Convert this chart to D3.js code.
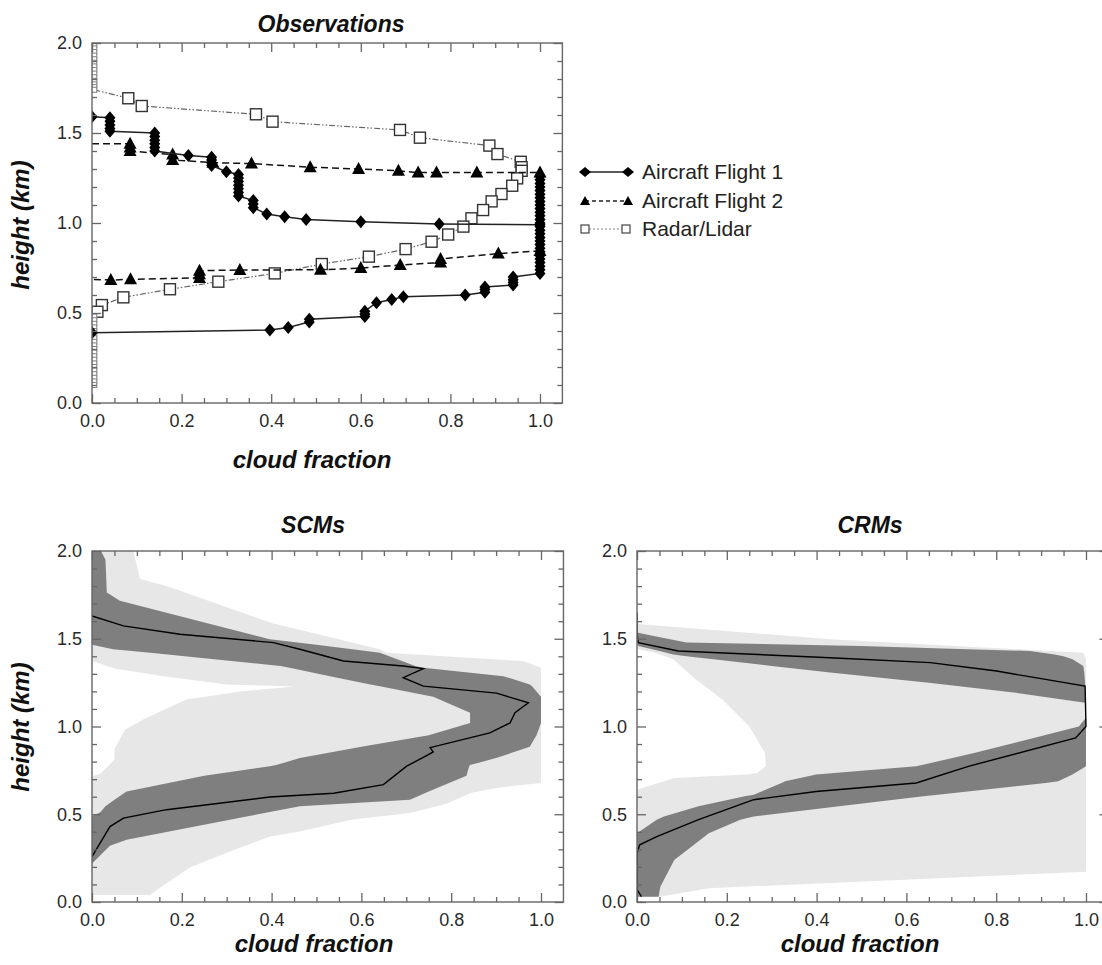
<!DOCTYPE html>
<html><head><meta charset="utf-8">
<script src="https://cdn.jsdelivr.net/npm/d3@7"></script>
<style>
html,body{margin:0;padding:0;background:#fff;}
svg{display:block;}
</style></head><body>
<svg id="chart" width="1102" height="965"></svg>
<script>
// ================= DATA =================
const xTicks = [0, 0.2, 0.4, 0.6, 0.8, 1.0];
const xMinorTicks = [0.05, 0.1, 0.15, 0.25, 0.3, 0.35, 0.45, 0.5, 0.55, 0.65, 0.7, 0.75, 0.85, 0.9, 0.95];
const yTicks = [0, 0.5, 1.0, 1.5, 2.0];
const yMinorTicks = [0.1, 0.2, 0.3, 0.4, 0.6, 0.7, 0.8, 0.9, 1.1, 1.2, 1.3, 1.4, 1.6, 1.7, 1.8, 1.9];

const panelTitles = ["Observations", "SCMs", "CRMs"];
const xAxisTitle = "cloud fraction";
const yAxisTitle = "height (km)";
const legendLabels = ["Aircraft Flight 1", "Aircraft Flight 2", "Radar/Lidar"];

// Aircraft Flight 1 (diamonds, solid)
const flight1CF = [0, 0.04, 0.04, 0.04, 0.04, 0.04, 0.14, 0.14, 0.14, 0.14, 0.14, 0.14, 0.215,
  0.267, 0.267, 0.267, 0.267, 0.30, 0.327, 0.327, 0.327, 0.327, 0.327, 0.327, 0.327,
  0.36, 0.36, 0.36, 0.39, 0.43, 0.478, 0.60, 0.775, 1.0,
  1.0, 1.0, 1.0, 1.0, 1.0, 1.0, 1.0, 1.0, 1.0, 1.0, 1.0, 1.0, 1.0, 1.0,
  1.0, 1.0, 1.0, 1.0, 1.0, 1.0, 1.0, 1.0, 1.0, 1.0, 1.0, 1.0, 1.0, 1.0,
  0.94, 0.94, 0.94, 0.94, 0.877, 0.877, 0.877, 0.833, 0.695, 0.669, 0.635,
  0.609, 0.609, 0.609, 0.485, 0.485, 0.438, 0.397, 0];
const flight1H = [1.59, 1.585, 1.565, 1.545, 1.525, 1.51, 1.50, 1.48, 1.46, 1.44, 1.42, 1.40, 1.375,
  1.365, 1.35, 1.335, 1.32, 1.285, 1.27, 1.25, 1.23, 1.21, 1.19, 1.17, 1.15,
  1.125, 1.105, 1.085, 1.05, 1.035, 1.02, 1.007, 0.995, 0.99,
  1.26, 1.24, 1.22, 1.20, 1.18, 1.16, 1.14, 1.12, 1.10, 1.08, 1.06, 1.04, 1.02, 1.00,
  0.98, 0.96, 0.94, 0.92, 0.90, 0.88, 0.86, 0.84, 0.82, 0.80, 0.78, 0.76, 0.74, 0.72,
  0.70, 0.685, 0.67, 0.655, 0.645, 0.63, 0.615, 0.60, 0.59, 0.575, 0.557,
  0.51, 0.495, 0.48, 0.465, 0.45, 0.42, 0.405, 0.39];

// Aircraft Flight 2 (triangles, dashed)
const flight2CF = [0, 0.085, 0.085, 0.085, 0.18, 0.18, 0.27, 0.356, 0.487, 0.595, 0.684, 0.728, 0.769, 0.859, 1.0,
  1.0, 0.907, 0.778, 0.778, 0.688, 0.60, 0.51, 0.33, 0.24, 0.24, 0.24, 0.086, 0.042, 0];
const flight2H = [1.44, 1.44, 1.42, 1.40, 1.38, 1.35, 1.335, 1.33, 1.31, 1.30, 1.29, 1.28, 1.28, 1.28, 1.28,
  0.845, 0.83, 0.80, 0.78, 0.767, 0.75, 0.74, 0.739, 0.735, 0.715, 0.695, 0.687, 0.683, 0.687];

// Radar/Lidar (open squares, dash-dot)
const radarCF = [0.005, 0.005, 0.005, 0.005, 0.005, 0.005, 0.005, 0.005, 0.005, 0.005, 0.005, 0.005, 0.005,
  0.005, 0.081, 0.111, 0.366, 0.403, 0.6875, 0.732, 0.887, 0.905, 0.957, 0.959, 0.959, 0.949, 0.938,
  0.914, 0.892, 0.873, 0.847, 0.829, 0.795, 0.758, 0.70, 0.618, 0.513, 0.408, 0.282, 0.174, 0.07, 0.022, 0.012,
  0.005, 0.005, 0.005, 0.005, 0.005, 0.005, 0.005, 0.005, 0.005, 0.005, 0.005, 0.005, 0.005, 0.005, 0.005, 0.005, 0.005, 0.005, 0.005, 0.005];
const radarH = [1.99, 1.97, 1.95, 1.93, 1.91, 1.89, 1.87, 1.85, 1.83, 1.81, 1.79, 1.77, 1.755,
  1.74, 1.693, 1.65, 1.604, 1.563, 1.517, 1.474, 1.43, 1.383, 1.34, 1.31, 1.29, 1.248, 1.207,
  1.161, 1.12, 1.072, 1.026, 0.98, 0.936, 0.896, 0.855, 0.813, 0.772, 0.72, 0.674, 0.632, 0.587, 0.544, 0.507,
  0.48, 0.46, 0.44, 0.42, 0.40, 0.38, 0.36, 0.34, 0.32, 0.30, 0.28, 0.26, 0.24, 0.22, 0.20, 0.18, 0.16, 0.14, 0.12, 0.10];

// SCMs: full range (light), spread (dark), mean (line)
const scmRangeH  = [0.04, 0.07, 0.2, 0.3, 0.373, 0.40, 0.47, 0.507, 0.56, 0.62, 0.65, 0.678, 0.716, 0.73, 0.81, 0.87, 0.98, 1.04, 1.154, 1.20, 1.228, 1.24, 1.287, 1.33, 1.335, 1.373, 1.42, 1.44, 1.59, 1.80, 1.84, 2.0];
const scmRangeLo = [0, 0, 0, 0, 0, 0, 0, 0, 0, 0, 0, 0, 0, 0.018, 0.05, 0.05, 0.073, 0.114, 0.21, 0.33, 0.45, 0.30, 0.16, 0.05, 0.045, 0, 0, 0, 0, 0, 0, 0];
const scmRangeHi = [0.13, 0.145, 0.22, 0.32, 0.396, 0.46, 0.58, 0.708, 0.79, 0.842, 0.9, 1.0, 1.0, 1.0, 1.0, 1.0, 1.0, 1.0, 1.0, 1.0, 1.0, 1.0, 1.0, 1.0, 1.0, 0.96, 0.656, 0.641, 0.40, 0.166, 0.107, 0.092];

const scmSpreadH  = [0.22, 0.32, 0.354, 0.49, 0.51, 0.545, 0.583, 0.63, 0.72, 0.773, 0.78, 0.82, 0.885, 0.95, 1.02, 1.078, 1.17, 1.23, 1.24, 1.287, 1.335, 1.345, 1.42, 1.44, 1.466, 1.497, 1.716, 1.764, 1.95, 2.0];
const scmSpreadLo = [0, 0, 0, 0, 0.018, 0.03, 0.05, 0.077, 0.25, 0.396, 0.41, 0.463, 0.60, 0.75, 0.842, 0.842, 0.76, 0.641, 0.62, 0.53, 0.44, 0.42, 0.13, 0.047, 0, 0, 0, 0, 0, 0];
const scmSpreadHi = [0, 0.04, 0.077, 0.35, 0.39, 0.463, 0.708, 0.75, 0.834, 0.84, 0.842, 0.9, 0.975, 0.99, 1.0, 1.0, 1.0, 0.98, 0.975, 0.916, 0.738, 0.72, 0.641, 0.58, 0.50, 0.396, 0.062, 0.033, 0.03, 0.02];

const scmMeanCF = [0, 0.07, 0.196, 0.404, 0.463, 0.56, 0.693, 0.738, 0.693, 0.738, 0.901, 0.972, 0.942, 0.931, 0.886, 0.753, 0.76, 0.742, 0.70, 0.649, 0.538, 0.396, 0.166, 0.07, 0.04, 0];
const scmMeanH  = [1.63, 1.573, 1.526, 1.478, 1.44, 1.373, 1.345, 1.33, 1.278, 1.23, 1.19, 1.135, 1.078, 1.02, 0.964, 0.88, 0.855, 0.83, 0.773, 0.669, 0.62, 0.598, 0.526, 0.478, 0.43, 0.259];

// CRMs
const crmRangeH  = [0.03, 0.078, 0.173, 0.64, 0.707, 0.726, 0.735, 0.773, 0.85, 1.0, 1.154, 1.27, 1.383, 1.42, 1.44, 1.45, 1.497, 1.583, 1.59];
const crmRangeLo = [0, 0, 0, 0, 0.083, 0.245, 0.268, 0.287, 0.285, 0.25, 0.19, 0.13, 0.081, 0.04, 0.003, 0, 0, 0, 0];
const crmRangeHi = [0.05, 0.16, 1.0, 1.0, 1.0, 1.0, 1.0, 1.0, 1.0, 1.0, 1.0, 1.0, 1.0, 0.994, 0.85, 0.77, 0.43, 0.007, 0];

const crmSpreadUpH  = [1.135, 1.19, 1.25, 1.307, 1.345, 1.383, 1.40, 1.41, 1.43, 1.459, 1.478, 1.526, 1.535];
const crmSpreadUpLo = [0.998, 0.85, 0.65, 0.43, 0.30, 0.17, 0.11, 0.081, 0.05, 0.003, 0, 0, 0];
const crmSpreadUpHi = [0.998, 0.998, 0.998, 0.996, 0.994, 0.97, 0.95, 0.93, 0.875, 0.497, 0.11, 0.018, 0];

const crmSpreadLowH  = [0.03, 0.087, 0.24, 0.392, 0.469, 0.487, 0.545, 0.602, 0.611, 0.678, 0.688, 0.726, 0.773, 0.85, 1.0, 1.05];
const crmSpreadLowLo = [0, 0, 0, 0, 0.044, 0.06, 0.137, 0.24, 0.26, 0.322, 0.33, 0.399, 0.622, 0.753, 0.984, 1.0];
const crmSpreadLowHi = [0.048, 0.052, 0.083, 0.16, 0.23, 0.26, 0.45, 0.638, 0.67, 0.91, 0.938, 0.97, 1.0, 1.0, 1.0, 1.0];

const crmMeanCF = [0, 0, 0.003, 0.092, 0.43, 0.653, 0.801, 0.998, 1.0, 0.977, 0.738, 0.622, 0.399, 0.26, 0.137, 0.044, 0.006, 0, 0, 0.01];
const crmMeanH  = [1.65, 1.52, 1.478, 1.43, 1.392, 1.364, 1.316, 1.23, 1.0, 0.935, 0.773, 0.678, 0.63, 0.583, 0.469, 0.373, 0.326, 0.278, 0.07, 0.03];

// ================= DRAWING =================
const FONT = '"Liberation Sans", Arial, Helvetica, sans-serif';
const svg = d3.select('#chart');
const LIGHT = '#e7e7e7', DARK = '#7f7f7f', AXIS = '#666';

function zip(a, b) { return a.map((v, i) => ({cf: v, h: b[i]})); }
function bandRows(hs, lo, hi) { return hs.map((h, i) => ({h: h, lo: lo[i], hi: hi[i]})); }

function makePanel(name, px0, px1, pyb, pyt) {
  const x = d3.scaleLinear().domain([0, 1]).range([px0, px1]);
  const y = d3.scaleLinear().domain([0, 2]).range([pyb, pyt]);
  const p = {x, y, left: x(0), right: x(1.05), top: y(2), bottom: y(0)};
  p.g = svg.append('g');
  const cid = 'clip-' + name;
  svg.append('defs').append('clipPath').attr('id', cid).append('rect')
    .attr('x', p.left).attr('y', p.top).attr('width', p.right - p.left).attr('height', p.bottom - p.top);
  p.plot = p.g.append('g').attr('clip-path', `url(#${cid})`);
  return p;
}

function drawFrame(p) {
  const ax = p.g.append('g');
  const mk = (axis, tr) => ax.append('g').attr('transform', tr).call(axis).call(s => s.select('.domain').remove());
  const fmt = d3.format('.1f');
  mk(d3.axisBottom(p.x).tickValues(xMinorTicks).tickSize(-5).tickFormat(''), `translate(0,${p.bottom})`);
  mk(d3.axisTop(p.x).tickValues(xMinorTicks).tickSize(-5).tickFormat(''), `translate(0,${p.top})`);
  mk(d3.axisBottom(p.x).tickValues(xTicks).tickSize(-9).tickPadding(11).tickFormat(fmt), `translate(0,${p.bottom})`);
  mk(d3.axisTop(p.x).tickValues(xTicks).tickSize(-9).tickFormat(''), `translate(0,${p.top})`);
  mk(d3.axisLeft(p.y).tickValues(yMinorTicks).tickSize(-5).tickFormat(''), `translate(${p.left},0)`);
  mk(d3.axisRight(p.y).tickValues(yMinorTicks).tickSize(-5).tickFormat(''), `translate(${p.right},0)`);
  mk(d3.axisLeft(p.y).tickValues(yTicks).tickSize(-9).tickPadding(10).tickFormat(fmt), `translate(${p.left},0)`);
  mk(d3.axisRight(p.y).tickValues(yTicks).tickSize(-9).tickFormat(''), `translate(${p.right},0)`);
  ax.selectAll('line').attr('stroke', AXIS).attr('stroke-width', 1.3);
  ax.selectAll('text').attr('font-size', 18).attr('fill', '#2a2a2a').attr('font-family', FONT);
  p.g.append('rect').attr('x', p.left).attr('y', p.top).attr('width', p.right - p.left).attr('height', p.bottom - p.top)
    .attr('fill', 'none').attr('stroke', AXIS).attr('stroke-width', 1.4);
}

function boldItalic(x, y, txt, size, rotate) {
  const t = svg.append('text').attr('font-family', FONT).attr('font-weight', 'bold').attr('font-style', 'italic')
    .attr('font-size', size).attr('fill', '#111').attr('text-anchor', 'middle').text(txt);
  if (rotate) t.attr('transform', `translate(${x},${y}) rotate(-90)`);
  else t.attr('x', x).attr('y', y);
}

// ---------- Observations panel ----------
const pObs = makePanel('obs', 92, 540, 403, 43);
{
  const {x, y, plot} = pObs;
  const line = d3.line().x(d => x(d.cf)).y(d => y(d.h));
  const radar = zip(radarCF, radarH);
  const f2 = zip(flight2CF, flight2H);
  const f1 = zip(flight1CF, flight1H);
  const small = d => d.cf < 0.01;

  plot.append('path').attr('d', line(radar)).attr('fill', 'none').attr('stroke', '#666').attr('stroke-width', 1.2)
    .attr('stroke-dasharray', '6,2,1.5,2,1.5,2');
  plot.selectAll('rect.rad').data(radar).enter().append('rect')
    .attr('x', d => x(d.cf) - (small(d) ? 2.5 : 5.5)).attr('y', d => y(d.h) - (small(d) ? 2.5 : 5.5))
    .attr('width', d => small(d) ? 5 : 11).attr('height', d => small(d) ? 5 : 11)
    .attr('fill', '#fff').attr('stroke', d => small(d) ? '#8a8a8a' : '#333').attr('stroke-width', d => small(d) ? 1.1 : 1.4);

  plot.append('path').attr('d', line(f2)).attr('fill', 'none').attr('stroke', '#111').attr('stroke-width', 1.5)
    .attr('stroke-dasharray', '7,4');
  plot.selectAll('path.tri').data(f2.filter(d => d.cf > 0)).enter().append('path')
    .attr('d', 'M0,-7L6.5,5L-6.5,5Z').attr('transform', d => `translate(${x(d.cf)},${y(d.h)})`).attr('fill', '#000');

  plot.append('path').attr('d', line(f1)).attr('fill', 'none').attr('stroke', '#222').attr('stroke-width', 1.5);
  plot.selectAll('path.dia').data(f1).enter().append('path')
    .attr('d', 'M0,-6.5L5.5,0L0,6.5L-5.5,0Z').attr('transform', d => `translate(${x(d.cf)},${y(d.h)})`).attr('fill', '#000');
}
drawFrame(pObs);
boldItalic(331, 32, panelTitles[0], 23);
boldItalic(312, 468, xAxisTitle, 24);
boldItalic(29, 225, yAxisTitle, 24, true);

// legend
{
  const lg = svg.append('g');
  const ys = [172, 201, 229];
  const xa = 585, xb = 628;
  lg.append('line').attr('x1', xa).attr('x2', xb).attr('y1', ys[0]).attr('y2', ys[0]).attr('stroke', '#222').attr('stroke-width', 1.5);
  [xa, xb].forEach(v => lg.append('path').attr('d', 'M0,-5L6,0L0,5L-6,0Z').attr('transform', `translate(${v},${ys[0]})`).attr('fill', '#000'));
  lg.append('line').attr('x1', xa).attr('x2', xb).attr('y1', ys[1]).attr('y2', ys[1]).attr('stroke', '#222').attr('stroke-width', 1.3).attr('stroke-dasharray', '4,3');
  [xa, xb].forEach(v => lg.append('path').attr('d', 'M0,-5L5,4L-5,4Z').attr('transform', `translate(${v},${ys[1]})`).attr('fill', '#000'));
  lg.append('line').attr('x1', xa).attr('x2', xb).attr('y1', ys[2]).attr('y2', ys[2]).attr('stroke', '#888').attr('stroke-width', 1.1).attr('stroke-dasharray', '2,2');
  [xa, xb - 2].forEach(v => lg.append('rect').attr('x', v - 4).attr('y', ys[2] - 4).attr('width', 8).attr('height', 8).attr('fill', '#fff').attr('stroke', '#444').attr('stroke-width', 1.2));
  legendLabels.forEach((t, i) => lg.append('text').attr('x', 642).attr('y', ys[i] + 7).attr('font-family', FONT).attr('font-size', 21).attr('fill', '#222').text(t));
}

// ---------- SCMs panel ----------
const pScm = makePanel('scm', 92, 541, 902, 551);
{
  const {x, y, plot} = pScm;
  const area = d3.area().y(d => y(d.h)).x0(d => x(d.lo)).x1(d => x(d.hi));
  const line = d3.line().x(d => x(d.cf)).y(d => y(d.h));
  plot.append('path').attr('d', area(bandRows(scmRangeH, scmRangeLo, scmRangeHi))).attr('fill', LIGHT);
  plot.append('path').attr('d', area(bandRows(scmSpreadH, scmSpreadLo, scmSpreadHi))).attr('fill', DARK);
  plot.append('path').attr('d', line(zip(scmMeanCF, scmMeanH))).attr('fill', 'none').attr('stroke', '#000').attr('stroke-width', 1.4);
}
drawFrame(pScm);
boldItalic(313, 533, panelTitles[1], 23);
boldItalic(314, 952, xAxisTitle, 24);
boldItalic(29, 727, yAxisTitle, 24, true);

// ---------- CRMs panel ----------
const pCrm = makePanel('crm', 637, 1086, 902, 551);
{
  const {x, y, plot} = pCrm;
  const area = d3.area().y(d => y(d.h)).x0(d => x(d.lo)).x1(d => x(d.hi));
  const line = d3.line().x(d => x(d.cf)).y(d => y(d.h));
  plot.append('path').attr('d', area(bandRows(crmRangeH, crmRangeLo, crmRangeHi))).attr('fill', LIGHT);
  plot.append('path').attr('d', area(bandRows(crmSpreadUpH, crmSpreadUpLo, crmSpreadUpHi))).attr('fill', DARK);
  plot.append('path').attr('d', area(bandRows(crmSpreadLowH, crmSpreadLowLo, crmSpreadLowHi))).attr('fill', DARK);
  plot.append('path').attr('d', line(zip(crmMeanCF, crmMeanH))).attr('fill', 'none').attr('stroke', '#000').attr('stroke-width', 1.4);
}
drawFrame(pCrm);
boldItalic(870, 533, panelTitles[2], 23);
boldItalic(860, 952, xAxisTitle, 24);
</script>
</body></html>
